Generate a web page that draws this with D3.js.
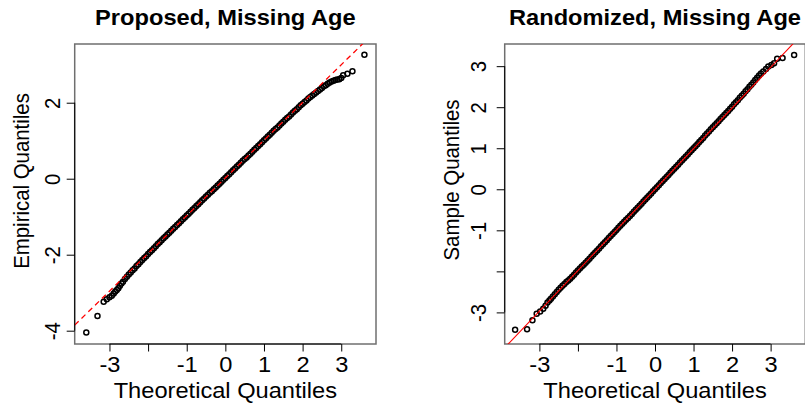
<!DOCTYPE html>
<html>
<head>
<meta charset="utf-8">
<script src="https://cdn.jsdelivr.net/npm/d3@7"></script>
<style>
  html, body { margin: 0; padding: 0; background: #fff; }
  svg { display: block; }
</style>
</head>
<body>
<svg id="chart" width="805" height="409"></svg>
<script>
// Normal Q-Q plots of two sets of residuals.

// Panel titles and axis titles
const titles = ["Proposed, Missing Age", "Randomized, Missing Age"];
const xTitles = ["Theoretical Quantiles", "Theoretical Quantiles"];
const yTitles = ["Empirical Quantiles", "Sample Quantiles"];

// Tick values and their labels (R drops labels that would collide)
const xTicks = [-3, -2, -1, 0, 1, 2, 3];
const xTickLabels = ["-3", "", "-1", "0", "1", "2", "3"];
const propYTicks = [-4, -2, 0, 2];
const propYTickLabels = ["-4", "-2", "0", "2"];
const randYTicks = [-3, -2, -1, 0, 1, 2, 3];
const randYTickLabels = ["-3", "", "-1", "0", "1", "2", "3"];

// Axis limits
const propXLim = [-3.9, 3.9];
const propYLim = [-4.35, 3.545];
const randXLim = [-3.9, 3.9];
const randYLim = [-3.77, 3.54];

// Proposed: theoretical vs empirical quantiles
const propTheo = [-3.60, -3.31, -3.15, -3.07, -3.00, -2.94, -2.89, -2.85, -2.81, -2.77, -2.73, -2.69, -2.65,
  -2.60, -2.55, -2.50, -2.45, -2.40, -2.35, -2.30, -2.25, -2.20, -2.15, -2.10, -2.05, -2.00,
  -1.95, -1.90, -1.85, -1.80, -1.75, -1.70, -1.65, -1.60, -1.55, -1.50, -1.45, -1.40, -1.35,
  -1.30, -1.25, -1.20, -1.15, -1.10, -1.05, -1.00, -0.95, -0.90, -0.85, -0.80, -0.75, -0.70,
  -0.65, -0.60, -0.55, -0.50, -0.45, -0.40, -0.35, -0.30, -0.25, -0.20, -0.15, -0.10, -0.05,
  0.00, 0.05, 0.10, 0.15, 0.20, 0.25, 0.30, 0.35, 0.40, 0.45, 0.50, 0.55, 0.60, 0.65, 0.70,
  0.75, 0.80, 0.85, 0.90, 0.95, 1.00, 1.05, 1.10, 1.15, 1.20, 1.25, 1.30, 1.35, 1.40, 1.45,
  1.50, 1.55, 1.60, 1.65, 1.70, 1.75, 1.80, 1.85, 1.90, 1.95, 2.00, 2.05, 2.10, 2.15, 2.20,
  2.25, 2.30, 2.35, 2.40, 2.45, 2.50, 2.55, 2.60, 2.65, 2.70, 2.75, 2.80, 2.85, 2.90, 2.95,
  3.00, 3.05, 3.16, 3.29, 3.60];
const propEmp = [-4.05, -3.61, -3.24, -3.17, -3.12, -3.08, -3.02, -2.97, -2.93, -2.88, -2.82, -2.76, -2.71,
  -2.64, -2.58, -2.52, -2.47, -2.41, -2.36, -2.30, -2.25, -2.19, -2.14, -2.09, -2.04, -1.98,
  -1.93, -1.88, -1.83, -1.78, -1.72, -1.67, -1.62, -1.57, -1.52, -1.47, -1.42, -1.37, -1.32,
  -1.27, -1.22, -1.17, -1.12, -1.07, -1.02, -0.97, -0.92, -0.87, -0.82, -0.77, -0.72, -0.67,
  -0.62, -0.57, -0.52, -0.47, -0.42, -0.37, -0.33, -0.28, -0.23, -0.18, -0.13, -0.08, -0.03,
  0.02, 0.07, 0.12, 0.17, 0.22, 0.27, 0.32, 0.37, 0.42, 0.47, 0.52, 0.56, 0.61, 0.66, 0.71,
  0.76, 0.81, 0.86, 0.91, 0.96, 1.01, 1.06, 1.11, 1.16, 1.21, 1.26, 1.31, 1.35, 1.40, 1.45,
  1.50, 1.55, 1.60, 1.64, 1.69, 1.74, 1.79, 1.83, 1.88, 1.93, 1.97, 2.02, 2.06, 2.11, 2.15,
  2.19, 2.23, 2.27, 2.31, 2.35, 2.39, 2.43, 2.46, 2.50, 2.53, 2.56, 2.58, 2.60, 2.61, 2.62,
  2.65, 2.72, 2.76, 2.83, 3.26];

// Randomized: theoretical vs sample quantiles
const randTheo = [-3.63, -3.32, -3.18, -3.07, -2.98, -2.90, -2.84, -2.79, -2.74, -2.70,
  -2.65, -2.60, -2.55, -2.50, -2.45, -2.40, -2.35, -2.30, -2.25, -2.20, -2.15, -2.10, -2.05,
  -2.00, -1.95, -1.90, -1.85, -1.80, -1.75, -1.70, -1.65, -1.60, -1.55, -1.50, -1.45, -1.40,
  -1.35, -1.30, -1.25, -1.20, -1.15, -1.10, -1.05, -1.00, -0.95, -0.90, -0.85, -0.80, -0.75,
  -0.70, -0.65, -0.60, -0.55, -0.50, -0.45, -0.40, -0.35, -0.30, -0.25, -0.20, -0.15, -0.10,
  -0.05, 0.00, 0.05, 0.10, 0.15, 0.20, 0.25, 0.30, 0.35, 0.40, 0.45, 0.50, 0.55, 0.60, 0.65,
  0.70, 0.75, 0.80, 0.85, 0.90, 0.95, 1.00, 1.05, 1.10, 1.15, 1.20, 1.25, 1.30, 1.35, 1.40,
  1.45, 1.50, 1.55, 1.60, 1.65, 1.70, 1.75, 1.80, 1.85, 1.90, 1.95, 2.00, 2.05, 2.10, 2.15,
  2.20, 2.25, 2.30, 2.35, 2.40, 2.45, 2.50, 2.55, 2.60, 2.65, 2.70, 2.75,
  2.81, 2.88, 2.94, 3.02, 3.09, 3.17, 3.31, 3.61];
const randSamp = [-3.42, -3.41, -3.19, -3.03, -2.98, -2.91, -2.84, -2.76, -2.71, -2.67,
  -2.61, -2.56, -2.50, -2.45, -2.40, -2.35, -2.31, -2.26, -2.22, -2.18, -2.13, -2.08, -2.03,
  -1.98, -1.93, -1.88, -1.84, -1.79, -1.74, -1.69, -1.64, -1.59, -1.54, -1.49, -1.44, -1.39,
  -1.34, -1.29, -1.24, -1.19, -1.14, -1.09, -1.04, -0.99, -0.94, -0.89, -0.84, -0.79, -0.74,
  -0.70, -0.65, -0.60, -0.55, -0.50, -0.45, -0.40, -0.35, -0.30, -0.25, -0.20, -0.15, -0.10,
  -0.05, 0.00, 0.05, 0.10, 0.15, 0.20, 0.25, 0.30, 0.35, 0.40, 0.45, 0.50, 0.55, 0.60, 0.65,
  0.70, 0.75, 0.80, 0.85, 0.90, 0.95, 1.00, 1.05, 1.10, 1.15, 1.20, 1.25, 1.31, 1.36, 1.41,
  1.46, 1.51, 1.56, 1.61, 1.66, 1.71, 1.76, 1.81, 1.86, 1.91, 1.96, 2.01, 2.07, 2.12, 2.17,
  2.23, 2.28, 2.33, 2.39, 2.44, 2.50, 2.55, 2.60, 2.66, 2.72, 2.77, 2.82,
  2.87, 2.93, 2.99, 3.03, 3.07, 3.18, 3.20, 3.27];

// Reference lines: [intercept, slope]
const propRef = [0.02, 0.993];
const randRef = [0.0, 0.99];

const FONT = "'Liberation Sans', Arial, Helvetica, sans-serif";
// horizontal text: size and horizontal stretch
const FS_H = 21.8, SX_H = 1.085;
// rotated text: size and stretch across the reading direction
const FS_V = 20.4, SX_V = 1.1;

const svg = d3.select("#chart");

function textTransform(x, y, rotate) {
  return rotate
    ? `translate(${x},${y}) scale(${SX_V},1) rotate(-90)`
    : `translate(${x},${y}) scale(${SX_H},1)`;
}

function stretchedText(g, x, y, txt, rotate, bold) {
  return g.append("text")
    .attr("transform", textTransform(x, y, rotate))
    .attr("text-anchor", "middle")
    .attr("font-family", FONT)
    .attr("font-size", rotate ? FS_V : FS_H)
    .attr("font-weight", bold ? "bold" : "normal")
    .attr("fill", "#000")
    .text(txt);
}

function drawPanel(p) {
  const g = svg.append("g");
  const x = d3.scaleLinear().domain(p.xLim).range([p.left, p.right]);
  const y = d3.scaleLinear().domain(p.yLim).range([p.bottom, p.top]);
  const points = p.theo.map((t, i) => [t, p.samp[i]]);

  const clipId = "clip" + p.id;
  svg.append("clipPath").attr("id", clipId)
    .append("rect")
    .attr("x", p.left).attr("y", p.top)
    .attr("width", p.right - p.left).attr("height", p.bottom - p.top);

  // plot frame
  g.append("rect")
    .attr("x", p.left).attr("y", p.top)
    .attr("width", p.right - p.left).attr("height", p.bottom - p.top)
    .attr("fill", "none").attr("stroke", "#6f6f6f").attr("stroke-width", 1.5);

  // open circles
  g.append("g").attr("clip-path", `url(#${clipId})`)
    .selectAll("circle").data(points).join("circle")
    .attr("cx", d => x(d[0])).attr("cy", d => y(d[1]))
    .attr("r", 2.5)
    .attr("fill", "none").attr("stroke", "#000").attr("stroke-width", 1.5);

  // reference line
  const [a, b] = p.ref;
  g.append("line").attr("clip-path", `url(#${clipId})`)
    .attr("x1", x(p.xLim[0])).attr("y1", y(a + b * p.xLim[0]))
    .attr("x2", x(p.xLim[1])).attr("y2", y(a + b * p.xLim[1]))
    .attr("stroke", "#ff0000")
    .attr("stroke-width", p.dashed ? 1.3 : 1.1)
    .attr("stroke-dasharray", p.dashed ? "5.5,4" : null);

  // bottom axis
  const gx = g.append("g").attr("transform", `translate(0,${p.bottom})`)
    .call(d3.axisBottom(x).tickValues(xTicks).tickSize(7.5).tickSizeOuter(0)
      .tickFormat((d, i) => xTickLabels[i]));
  gx.select(".domain").remove();
  gx.append("line")
    .attr("x1", x(xTicks[0])).attr("x2", x(xTicks[xTicks.length - 1]))
    .attr("stroke", "#000").attr("stroke-width", 1);
  gx.selectAll(".tick line").attr("stroke-width", 1);
  gx.selectAll(".tick text")
    .attr("y", null).attr("dy", null)
    .attr("transform", textTransform(0, p.xTickBase - p.bottom, false))
    .attr("font-family", FONT).attr("font-size", FS_H).attr("fill", "#000");
  gx.attr("font-size", null).attr("font-family", null);

  // left axis
  const gy = g.append("g").attr("transform", `translate(${p.left},0)`)
    .call(d3.axisLeft(y).tickValues(p.yTicks).tickSize(8).tickSizeOuter(0)
      .tickFormat((d, i) => p.yTickLabels[i]));
  gy.select(".domain").remove();
  gy.append("line")
    .attr("y1", y(p.yTicks[0])).attr("y2", y(p.yTicks[p.yTicks.length - 1]))
    .attr("stroke", "#000").attr("stroke-width", 1);
  gy.selectAll(".tick line").attr("stroke-width", 1);
  gy.selectAll(".tick text")
    .attr("x", null).attr("dy", null)
    .attr("text-anchor", "middle")
    .attr("transform", textTransform(-p.yTickGap, 0, true))
    .attr("font-family", FONT).attr("font-size", FS_V).attr("fill", "#000");
  gy.attr("font-size", null).attr("font-family", null);

  // titles
  stretchedText(g, (p.left + p.right) / 2, p.titleBase, p.title, false, true);
  stretchedText(g, (p.left + p.right) / 2, p.xTitleBase, p.xTitle, false, false);
  stretchedText(g, p.yTitleBase, p.yTitleMid, p.yTitle, true, false);
}

drawPanel({
  id: "A", title: titles[0], xTitle: xTitles[0], yTitle: yTitles[0],
  theo: propTheo, samp: propEmp, ref: propRef, dashed: true,
  xLim: propXLim, yLim: propYLim, yTicks: propYTicks, yTickLabels: propYTickLabels,
  left: 74.7, right: 376, top: 44, bottom: 344,
  titleBase: 24.5, xTickBase: 371.5, xTitleBase: 398, yTickGap: 14.7,
  yTitleBase: 28.5, yTitleMid: 181
});

drawPanel({
  id: "B", title: titles[1], xTitle: xTitles[1], yTitle: yTitles[1],
  theo: randTheo, samp: randSamp, ref: randRef, dashed: false,
  xLim: randXLim, yLim: randYLim, yTicks: randYTicks, yTickLabels: randYTickLabels,
  left: 504.7, right: 805.3, top: 44, bottom: 344,
  titleBase: 24.5, xTickBase: 371.5, xTitleBase: 398, yTickGap: 18.7,
  yTitleBase: 458.5, yTitleMid: 180
});
</script>
</body>
</html>
